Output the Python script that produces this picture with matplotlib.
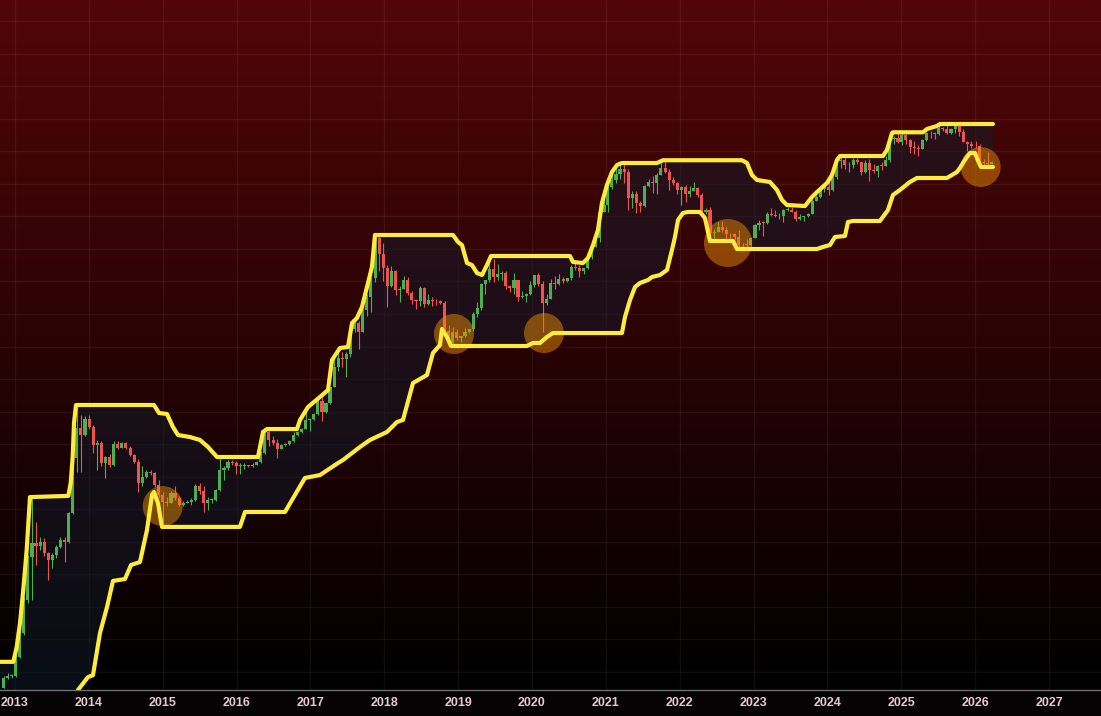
import numpy as np
import pandas as pd
import matplotlib
matplotlib.use("Agg")
import matplotlib.pyplot as plt
from matplotlib.ticker import NullLocator

# ~20-day candles, Nov 2012 -> Mar 2026 (USD, log chart)
FIRST_OPEN = 10.4
closes = [
    12.2, 12.6, 12.6, 17.3, 25.8, 44.8, 92, 116, 110, 118,
    98, 87, 95, 109, 122, 118, 192, 480, 792, 700,
    920, 800, 595, 620, 440, 485, 425, 610, 570, 620,
    570, 505, 450, 316, 350, 380, 372, 305, 258, 230,
    228, 268, 245, 220, 225, 232, 240, 300, 275, 225,
    238, 240, 280, 390, 405, 450, 440, 420, 420, 425,
    420, 430, 450, 520, 740, 650, 620, 560, 600, 605,
    640, 700, 740, 780, 900, 920, 1000, 1250, 1040, 1200,
    1570, 2200, 2550, 2500, 2700, 4100, 4600, 3900, 5700, 7100,
    9700, 18900, 14500, 11500, 8500, 10900, 7900, 8100, 9400, 7500,
    6700, 6600, 8200, 6300, 6700, 6600, 6550, 6400, 4000, 3250,
    3900, 3550, 3650, 3900, 4100, 5300, 5900, 8700, 9300, 11300,
    9800, 10300, 10500, 8400, 8200, 9300, 7100, 7200, 7350, 8600,
    10200, 8800, 6400, 6850, 8900, 8800, 9450, 9200, 9600, 11700,
    11500, 10900, 11400, 13700, 16300, 18800, 29000, 32500, 44000, 50000,
    55000, 60000, 56500, 37000, 39000, 34000, 32000, 45000, 48000, 47000,
    54000, 61000, 57000, 50000, 47500, 42000, 44000, 39000, 41000, 43500,
    38500, 29000, 30000, 20500, 20800, 22800, 21400, 20200, 20000, 19300,
    16700, 16900, 16800, 19000, 23500, 24300, 24200, 28200, 27500, 27000,
    27200, 30000, 30300, 29200, 26000, 26600, 27000, 28300, 35000, 37500,
    43000, 44000, 41800, 51900, 68300, 69500, 63500, 63500, 69000, 66500,
    57000, 66000, 59000, 57500, 63000, 62800, 69500, 98900, 100000, 94000,
    106000, 97000, 86000, 84000, 83800, 96500, 109000, 108000, 107000, 118000,
    116600, 108400, 117000, 122000, 110000, 94000, 91000, 88000, 87000, 67500,
    65500, 65000, 67500,
]
highs = [
    12.6, 13.3, 13.0, 17.8, 27, 47, 95, 250, 165, 128,
    126, 100, 99, 112, 128, 128, 196, 500, 1120, 980,
    960, 990, 830, 650, 640, 500, 510, 640, 640, 630,
    630, 590, 515, 470, 420, 390, 395, 380, 330, 270,
    250, 275, 300, 255, 235, 240, 245, 310, 315, 300,
    250, 248, 285, 490, 420, 465, 465, 460, 440, 445,
    430, 440, 460, 535, 770, 760, 690, 660, 610, 615,
    645, 740, 750, 790, 1120, 930, 1010, 1290, 1330, 1210,
    1580, 2760, 2980, 2800, 2800, 4300, 4980, 4750, 5850, 7450,
    9800, 19800, 19500, 17200, 12000, 11800, 11000, 8500, 9990, 9800,
    7800, 6800, 8500, 8300, 7400, 7100, 6800, 6700, 6600, 4400,
    4250, 4100, 3700, 4200, 4150, 5450, 6500, 8900, 9400, 13900,
    13200, 12300, 10950, 10950, 8600, 10500, 9400, 7850, 7550, 9200,
    10250, 10500, 9200, 7450, 9450, 10050, 10400, 9800, 9700, 12100,
    12450, 12050, 11500, 13900, 16800, 19500, 29300, 41900, 48200, 58300,
    61700, 64800, 64800, 59500, 41000, 41300, 35000, 45300, 50500, 52900,
    55800, 67000, 69000, 59400, 52100, 48000, 45000, 45800, 45000, 48200,
    43900, 40000, 31300, 31500, 21800, 24600, 25200, 22500, 20400, 20450,
    21500, 17300, 18400, 19100, 23900, 25250, 25000, 28900, 31000, 30000,
    28450, 30500, 31400, 31800, 30200, 28000, 27400, 28600, 35900, 38400,
    44700, 45900, 48900, 52900, 69000, 73800, 72700, 67200, 71950, 71950,
    67000, 69000, 70000, 65000, 64000, 66500, 73600, 99500, 104000, 108300,
    109400, 106500, 98500, 95000, 88800, 97900, 110000, 111900, 110600, 123200,
    120000, 124500, 117900, 125700, 126200, 116000, 95000, 94600, 95000, 90000,
    70000, 79000, 68500,
]
lows = [
    10.3, 12.0, 12.3, 12.4, 17.1, 25, 43, 45, 80, 104,
    93, 63, 77, 90, 107, 85, 116, 190, 380, 380,
    690, 780, 520, 390, 420, 345, 410, 420, 560, 565,
    560, 495, 440, 272, 300, 345, 360, 295, 245, 165,
    215, 225, 240, 215, 215, 225, 220, 235, 265, 195,
    200, 228, 235, 275, 330, 390, 425, 370, 365, 400,
    410, 410, 425, 440, 515, 590, 600, 480, 555, 590,
    595, 630, 690, 730, 780, 750, 900, 990, 890, 1010,
    1190, 1570, 2050, 2200, 1850, 2600, 3900, 2970, 3900, 5100,
    5500, 9000, 10800, 9200, 6000, 8300, 7300, 6450, 8000, 7300,
    6300, 5750, 6100, 6000, 6200, 6100, 6150, 6300, 3600, 3150,
    3200, 3450, 3350, 3600, 3850, 4000, 5050, 5700, 7450, 9000,
    9100, 9400, 9400, 8000, 7700, 7350, 6550, 6900, 6450, 7300,
    8300, 8500, 3900, 6150, 6800, 8100, 8650, 8900, 9050, 9300,
    11100, 9850, 10400, 11200, 13200, 16300, 17700, 28900, 29300, 43000,
    47000, 50500, 47000, 30000, 31000, 28800, 29300, 31700, 44000, 40000,
    39600, 53900, 56000, 42000, 45500, 39600, 32900, 34300, 37200, 41000,
    37600, 26700, 28000, 17600, 18800, 20800, 20900, 18500, 18200, 18200,
    15600, 15500, 16300, 16400, 18900, 21400, 19550, 24000, 27200, 26800,
    25800, 24800, 29500, 28900, 25200, 25300, 24900, 26600, 28000, 34700,
    37000, 40500, 38500, 41500, 50600, 60800, 59600, 56500, 60700, 64500,
    53500, 55900, 49000, 56000, 52500, 58900, 62400, 66800, 90700, 91500,
    89200, 91200, 78200, 76600, 74400, 83000, 95800, 100400, 98200, 105000,
    112000, 107300, 107300, 108600, 103500, 93000, 80600, 84500, 85000, 62500,
    62000, 63000, 64500,
]

# channel lines (decimal year, price)
upper_x = [2012.797, 2012.977, 2013.023, 2013.068, 2013.112, 2013.158, 2013.203, 2013.722,
           2013.754, 2013.781, 2013.799, 2013.826, 2014.882, 2014.950, 2015.058, 2015.139,
           2015.207, 2015.369, 2015.505, 2015.613, 2015.735, 2016.290, 2016.358, 2016.412,
           2016.818, 2016.859, 2016.967, 2017.129, 2017.238, 2017.292, 2017.400, 2017.509,
           2017.563, 2017.630, 2017.698, 2017.766, 2017.833, 2017.874, 2018.930, 2018.998,
           2019.052, 2019.120, 2019.187, 2019.255, 2019.323, 2019.390, 2019.445, 2020.514,
           2020.555, 2020.690, 2020.758, 2020.826, 2020.893, 2020.947, 2021.015, 2021.083,
           2021.151, 2021.218, 2021.692, 2021.773, 2022.843, 2022.911, 2022.978, 2023.046,
           2023.222, 2023.317, 2023.385, 2023.452, 2023.696, 2023.791, 2023.859, 2023.994,
           2024.062, 2024.129, 2024.170, 2024.752, 2024.806, 2024.874, 2024.887, 2025.294,
           2025.348, 2025.483, 2025.524, 2026.241]
upper_y = [16, 16, 20.5, 30.6, 53, 103, 250, 255,
           316, 488, 860, 1162, 1162, 1017, 1000, 805,
           704, 681, 648, 577, 488, 488, 741, 778,
           778, 905, 1124, 1328, 1492, 2462, 3008, 3058,
           4564, 4962, 5961, 8325, 11620, 19820, 19820, 17640,
           16770, 12420, 12010, 10510, 10170, 12010, 13960, 13960,
           12630, 12420, 13500, 16770, 21540, 33810, 45640, 56700,
           63730, 65880, 65880, 69000, 69000, 65880, 53950, 49620,
           48000, 42010, 35530, 32690, 32150, 37370, 40610, 47200,
           53950, 69270, 74070, 74070, 81850, 108700, 110000, 110000,
           116200, 122200, 126300, 126300]
lower_x = [2012.797, 2013.812, 2013.853, 2013.988, 2014.056, 2014.151, 2014.246, 2014.327,
           2014.489, 2014.571, 2014.692, 2014.787, 2014.855, 2014.882, 2014.936, 2014.990,
           2016.046, 2016.114, 2016.656, 2016.750, 2016.926, 2017.129, 2017.373, 2017.441,
           2017.671, 2017.806, 2018.037, 2018.172, 2018.253, 2018.389, 2018.578, 2018.659,
           2018.754, 2018.781, 2018.849, 2018.903, 2019.932, 2020.013, 2020.108, 2020.203,
           2020.284, 2021.218, 2021.259, 2021.327, 2021.395, 2021.462, 2021.571, 2021.625,
           2021.733, 2021.828, 2021.895, 2021.936, 2021.977, 2022.044, 2022.112, 2022.274,
           2022.342, 2022.383, 2022.410, 2022.721, 2022.775, 2023.859, 2023.940, 2024.035,
           2024.102, 2024.238, 2024.278, 2024.346, 2024.711, 2024.820, 2024.887, 2024.982,
           2025.117, 2025.212, 2025.618, 2025.754, 2025.794, 2025.835, 2025.889, 2025.930,
           2025.998, 2026.052, 2026.079, 2026.241]
lower_y = [5, 8, 10, 12.4, 12.8, 25.9, 39.9, 61.7,
           63.7, 80.5, 84.6, 144, 259, 272, 226, 152,
           152, 195, 195, 238, 344, 361, 441, 464,
           577, 648, 741, 875, 905, 1677, 1917, 2767,
           3162, 4130, 3614, 3110, 3110, 3270, 3270, 3614,
           3860, 3860, 5045, 6700, 8325, 8900, 9355, 9835,
           10170, 11050, 15430, 19170, 25450, 28610, 29100, 29100,
           26320, 20830, 17930, 17930, 15690, 15690, 16230, 16770,
           19170, 19500, 24620, 25040, 25040, 30080, 38640, 42010,
           48000, 51310, 51310, 56700, 60620, 65880, 72840, 77870,
           77870, 65880, 61660, 61660]

# highlighted touches of the lower line
circle_x = [2015.000, 2018.944, 2020.162, 2022.653, 2026.075]
circle_y = [215, 3800, 3860, 17340, 61660]
circle_r_px = [20, 20, 20, 24, 20]

years = list(range(2013, 2028))

W, H = 1101, 716
AX_BOTTOM = 26

opens = [FIRST_OPEN] + closes[:-1]
dates = pd.date_range("2012-11-05", "2026-03-25", periods=len(closes))
xs = np.asarray(dates.year + (dates.dayofyear - 1) / 365.25, dtype=float)

o = np.array(opens, dtype=float)
c = np.array(closes, dtype=float)
hi = np.array(highs, dtype=float)
lo = np.array(lows, dtype=float)
up = c >= o
cols = np.where(up, "#4caf50", "#ef5350")
body_lo = np.minimum(o, c)
body_hi = np.maximum(np.maximum(o, c), body_lo * 1.012)

fig = plt.figure(figsize=(W / 100, H / 100), dpi=100, facecolor="#050304")
rect = [0, AX_BOTTOM / H, 1, (H - AX_BOTTOM) / H]

# background gradient (dark red -> black)
bg = fig.add_axes(rect, zorder=0)
top_rgb = np.array([82, 6, 8]) / 255
grad = np.linspace(1, 0, 256)[:, None, None] * top_rgb[None, None, :]
bg.imshow(grad, aspect="auto", extent=[0, 1, 0, 1])
bg.axis("off")

ax = fig.add_axes(rect, zorder=1)
ax.set_facecolor("none")
ax.set_yscale("log")
ax.set_ylim(10, 1e6)
ax.set_xlim(2012.797, 2027.704)

# grid
grid_levels = 10 ** (6 - (21 + 32.55 * np.arange(21)) / 138)
ax.set_yticks(grid_levels)
ax.yaxis.set_minor_locator(NullLocator())
ax.set_xticks(years)
ax.set_xticklabels([str(y) for y in years])
ax.grid(True, color="white", alpha=0.06, lw=1)
ax.set_axisbelow(True)

# channel fill
poly_x = np.r_[upper_x, lower_x[::-1]]
poly_y = np.r_[upper_y, lower_y[::-1]]
ax.fill(poly_x, poly_y, color="#111a2a", alpha=0.5, lw=0, zorder=1)

# candles
ax.vlines(xs, lo, hi, colors=cols, lw=0.8, zorder=2)
ax.bar(xs, body_hi - body_lo, bottom=body_lo, width=0.042, color=cols, lw=0, zorder=3)

# circles
sizes = [(2 * r * 0.72) ** 2 for r in circle_r_px]
ax.scatter(circle_x, circle_y, s=sizes, color="#f29200", alpha=0.47, lw=0, zorder=4)

# channel lines
for bx, by in [(upper_x, upper_y), (lower_x, lower_y)]:
    ax.plot(bx, by, color="#ffeb3b", lw=3.0, solid_joinstyle="round",
            solid_capstyle="round", zorder=5)

for side in ["top", "left", "right"]:
    ax.spines[side].set_visible(False)
ax.spines["bottom"].set_color("#6e6e6e")
ax.spines["bottom"].set_linewidth(1)
ax.tick_params(axis="y", left=False, labelleft=False)
ax.tick_params(axis="x", length=0, pad=5, labelcolor="#e8c6d2", labelsize=9)
for lab in ax.get_xticklabels():
    lab.set_fontfamily("Liberation Sans")
    lab.set_fontweight("bold")

fig.savefig("out.png", dpi=100, facecolor=fig.get_facecolor())
